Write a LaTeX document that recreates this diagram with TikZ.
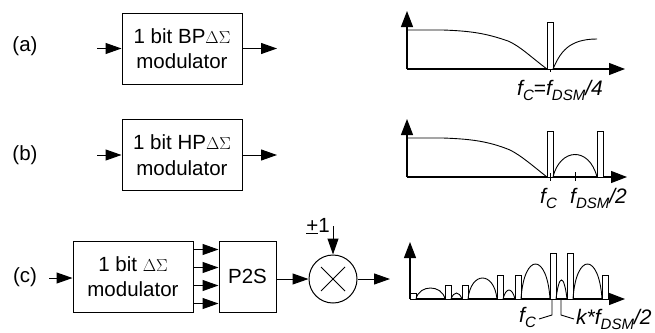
\documentclass[tikz,border=0pt]{standalone}
\usepackage{fontspec}
\setmainfont{Liberation Sans}
\usepackage{tikz}
\usetikzlibrary{arrows.meta,positioning}

\newcommand{\lowtext}[1]{\raisebox{-0.28em}{\fontsize{15}{15}\selectfont #1}}
\newcommand{\dsig}{{\fontsize{16}{16}\selectfont$\Delta\Sigma$}}

\tikzset{
  block/.style = {draw, shape = rectangle, minimum width = 120pt, minimum height = 71pt, align = center, font = \fontsize{20.5}{25.5}\selectfont, line width = 1pt},
  mixer/.style = {draw, shape = circle, minimum size = 48pt, line width = 1pt},
  tag/.style = {font = \fontsize{20.5}{25}\selectfont},
  flabel/.style = {anchor = base west, inner sep = 0pt, font = \fontsize{21}{24}\selectfont\itshape},
  sig/.style = {line width = 1pt, -{Triangle[length = 16pt, width = 11pt]}},
  axis/.style = {line width = 1.2pt, -{Triangle[length = 16pt, width = 12pt]}},
  trace/.style = {line width = 0.9pt},
  bar/.style = {draw, line width = 0.9pt, fill = white}
}

\begin{document}
\begin{tikzpicture}[x = 1pt, y = -1pt]
\useasboundingbox (0,0) rectangle (655,332);

% row a
\node[tag] (taga) at (25,46) {(a)};
\node[block] (blka) at (182,48.5) {1 bit BP\dsig\\modulator};
\coordinate (ina) at (97,48.5);
\coordinate (outa) at (277,48.5);
\draw[sig] (ina) -- (blka);
\draw[sig] (blka) -- (outa);

% row b
\node[tag] (tagb) at (25,155) {(b)};
\node[block] (blkb) at (182,155) {1 bit HP\dsig\\modulator};
\coordinate (inb) at (97,155);
\coordinate (outb) at (277,155);
\draw[sig] (inb) -- (blkb);
\draw[sig] (blkb) -- (outb);

% row c
\node[tag] (tagc) at (25,277) {(c)};
\node[block] (blkc) at (133,276.5) {1 bit \dsig\\modulator};
\node[block, minimum width = 57pt, right = 25pt of blkc] (p2s) {P2S};
\node[mixer] (mul) at (333,279) {};
\coordinate (inc) at (49,278);
\coordinate (outc) at (390,279);
\coordinate (unit) at (333,226);
\draw[sig] (inc) -- (inc -| blkc.west);
\foreach \dy in {-27,-9,9,27}
  \draw[sig] ([yshift = \dy pt]blkc.east) -- ([yshift = \dy pt]p2s.west);
\draw[sig] (p2s.east |- mul) -- (mul);
\draw[sig] (mul) -- (outc);
\draw[sig] (unit) -- (mul);
\draw[line width = 0.9pt] ([shift = {(-12pt,-12pt)}]mul.center) -- ([shift = {(12pt,12pt)}]mul.center);
\draw[line width = 0.9pt] ([shift = {(-12pt,12pt)}]mul.center) -- ([shift = {(12pt,-12pt)}]mul.center);
\node[tag, inner sep = 0pt] (pm) at (318,226) {\underline{+}1};

% spectrum a
\draw[axis] (407,69) -- (407,11);
\draw[axis] (407,69) -- (625,69);
\draw[trace] (407,30) -- (443,30) .. controls (470,31) and (485,33) .. (508,41) .. controls (520,46) and (532,58) .. (547,69);
\draw[bar] (547,22) rectangle (553,69);
\draw[trace] (553,69) .. controls (560,53) and (568,39) .. (597,39);
\draw[trace] (550,69) -- (550,72);
\node[flabel] (fa) at (517,95) {f\lowtext{C}\upshape=\itshape f\lowtext{DSM}/4};

% spectrum b
\draw[axis] (407,177) -- (407,119);
\draw[axis] (407,177) -- (627,177);
\draw[trace] (407,138) -- (443,138) .. controls (470,139) and (488,141) .. (510,150) .. controls (522,156) and (534,167) .. (547,177);
\draw[bar] (547,131) rectangle (553,177);
\draw[bar] (597,131) rectangle (603,177);
\draw[trace] (553,177) .. controls (560,148) and (589,146) .. (597,177);
\draw[trace] (550,173) -- (550,181);
\draw[trace] (575,172) -- (575,181);
\node[flabel] (fb1) at (540,203) {f\lowtext{C}};
\node[flabel] (fb2) at (570,203) {f\lowtext{DSM}/2};

% spectrum c
\draw[axis] (410,299) -- (410,242);
\draw[axis] (410,299) -- (625,299);
\foreach \xa/\xb/\ytop in {410/416/293,445/451/285,462/468/285,497/503/275,515/521/275,550/556/253,567/573/253,602/608/275}
  \draw[bar] (\xa,\ytop) rectangle (\xb,299);
\foreach \xa/\xb/\ytop [evaluate = \ytop as \yc using 299+(\ytop-299)*4/3] in {416/445/288,451/462/293,468/497/278,503/515/290,521/550/264,556/567/280,573/602/264}
  \draw[trace] (\xa,299) .. controls ({\xa+3},\yc) and ({\xb-3},\yc) .. (\xb,299);
\draw[trace] (552,299) -- (552,315) -- (539,319);
\draw[trace] (561,299) -- (561,315) -- (574,319);
\node[flabel] (fc1) at (519,322) {f\lowtext{C}};
\node[flabel] (fc2) at (576,324) {k*f\lowtext{DSM}/2};
\end{tikzpicture}
\end{document}
